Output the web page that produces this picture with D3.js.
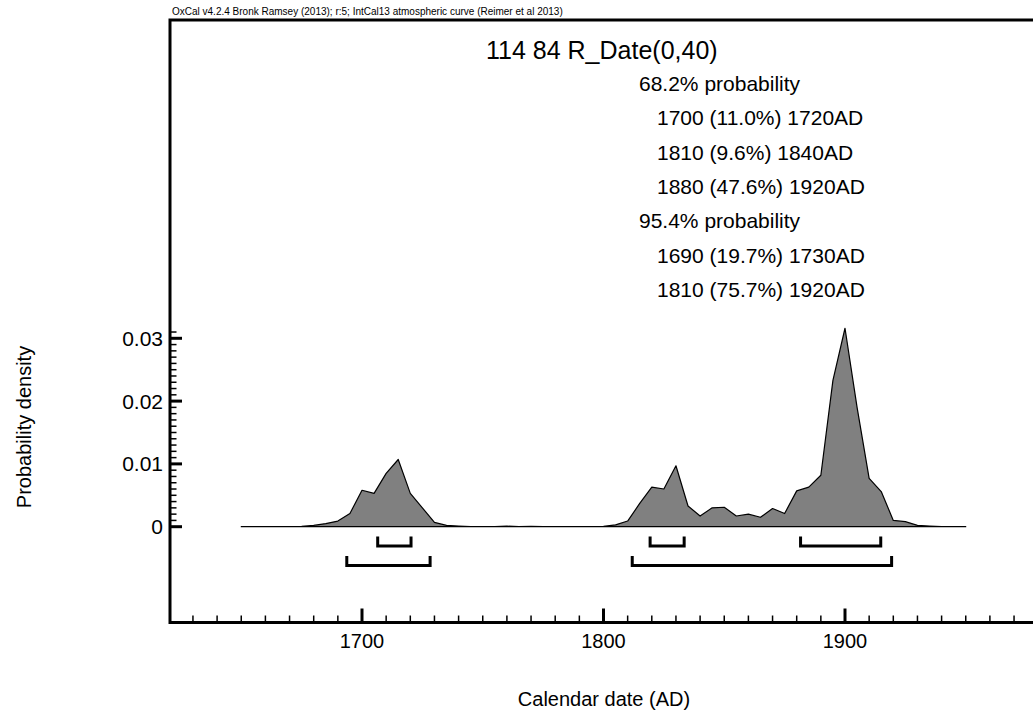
<!DOCTYPE html>
<html>
<head>
<meta charset="utf-8">
<script src="https://cdn.jsdelivr.net/npm/d3@7"></script>
<style>
  body { margin: 0; background: #fff; }
  svg { display: block; font-family: "Liberation Sans", Arial, sans-serif; }
</style>
</head>
<body>
<svg id="svg" width="1033" height="715"></svg>
<script>
// calibrated probability density, every 5 years
const years = d3.range(1650, 1951, 5);
const density = [
    0, 0, 0, 0, 0, 0.00005, 0.0002, 0.0005, 0.0009, 0.0021,
    0.0058, 0.0053, 0.0085, 0.0107, 0.0053, 0.0030, 0.0007, 0.0002, 0.0001, 0,
    0, 0, 0.0001, 0, 0.00005, 0, 0, 0, 0, 0,
    0.00005, 0.0003, 0.0009, 0.0037, 0.0063, 0.0060, 0.0097, 0.0033, 0.0017, 0.0030,
    0.0031, 0.0017, 0.0020, 0.0015, 0.0029, 0.0021, 0.0057, 0.0063, 0.0082, 0.0233,
    0.0316, 0.0190, 0.0077, 0.0056, 0.0010, 0.0008, 0.0002, 0.0001, 0, 0,
    0
];
const range68 = [[1706.5, 1720.3], [1819.3, 1833.4], [1881.6, 1914.8]];
const range95 = [[1693.7, 1728.2], [1811.9, 1919.3]];

const headerText = "OxCal v4.2.4 Bronk Ramsey (2013); r:5; IntCal13 atmospheric curve (Reimer et al 2013)";
const titleText = "114 84 R_Date(0,40)";
const summary = [
    { text: "68.2% probability", indent: false },
    { text: "1700 (11.0%) 1720AD", indent: true },
    { text: "1810 (9.6%) 1840AD", indent: true },
    { text: "1880 (47.6%) 1920AD", indent: true },
    { text: "95.4% probability", indent: false },
    { text: "1690 (19.7%) 1730AD", indent: true },
    { text: "1810 (75.7%) 1920AD", indent: true }
];
const xMajor = [1700, 1800, 1900];
const xMinor = d3.range(1630, 1971, 10);
const yMajor = [0, 0.01, 0.02, 0.03];
const yMinor = d3.range(0, 0.0315, 0.001);

const svg = d3.select("#svg");
svg.append("rect").attr("width", 1033).attr("height", 715).attr("fill", "#fff");

const x = d3.scaleLinear().domain([1700, 1900]).range([362, 845]);
const y = d3.scaleLinear().domain([0, 0.03]).range([526.7, 338.3]);

const frameLeft = 170, frameTop = 20, frameBottom = 622.5, frameRight = 1033;

// header
svg.append("text")
    .attr("x", 172).attr("y", 15)
    .attr("font-size", 10)
    .text(headerText);

// frame (top, left, bottom)
svg.append("path")
    .attr("d", `M${frameRight},${frameTop}H${frameLeft}V${frameBottom}H${frameRight}`)
    .attr("fill", "none")
    .attr("stroke", "black")
    .attr("stroke-width", 3);

// x ticks
svg.append("g").selectAll("line").data(xMinor.filter(d => !xMajor.includes(d))).join("line")
    .attr("x1", d => x(d)).attr("x2", d => x(d))
    .attr("y1", frameBottom).attr("y2", frameBottom - 7)
    .attr("stroke", "black").attr("stroke-width", 1.5);
svg.append("g").selectAll("line").data(xMajor).join("line")
    .attr("x1", d => x(d)).attr("x2", d => x(d))
    .attr("y1", frameBottom).attr("y2", frameBottom - 14)
    .attr("stroke", "black").attr("stroke-width", 3);
svg.append("g").selectAll("text").data(xMajor).join("text")
    .attr("x", d => x(d)).attr("y", 648)
    .attr("text-anchor", "middle")
    .attr("font-size", 20)
    .text(d => d);

// y ticks
svg.append("g").selectAll("line").data(yMinor).join("line")
    .attr("x1", frameLeft).attr("x2", frameLeft + 6.5)
    .attr("y1", d => y(d)).attr("y2", d => y(d))
    .attr("stroke", "black").attr("stroke-width", 1.5);
svg.append("g").selectAll("line").data(yMajor).join("line")
    .attr("x1", frameLeft).attr("x2", frameLeft + 12)
    .attr("y1", d => y(d)).attr("y2", d => y(d))
    .attr("stroke", "black").attr("stroke-width", 3);
svg.append("g").selectAll("text").data(yMajor).join("text")
    .attr("x", 163).attr("y", d => y(d) + 7.5)
    .attr("text-anchor", "end")
    .attr("font-size", 21)
    .text(d => d === 0 ? "0" : d3.format(".2f")(d));

// density
const area = d3.area()
    .x((d, i) => x(years[i]))
    .y0(y(0))
    .y1(d => y(d));
svg.append("path")
    .datum(density)
    .attr("d", area)
    .attr("fill", "#808080")
    .attr("stroke", "black")
    .attr("stroke-width", 1.2)
    .attr("stroke-linejoin", "round");

// range brackets
function brackets(data, yTop, yBot) {
    svg.append("g").selectAll("path").data(data).join("path")
        .attr("d", d => `M${x(d[0])},${yTop}V${yBot}H${x(d[1])}V${yTop}`)
        .attr("fill", "none")
        .attr("stroke", "black")
        .attr("stroke-width", 3);
}
brackets(range68, 536.5, 546);
brackets(range95, 556, 565.5);

// title and summary
svg.append("text")
    .attr("x", 486).attr("y", 58.5)
    .attr("font-size", 25)
    .text(titleText);
svg.append("g").selectAll("text").data(summary).join("text")
    .attr("x", d => d.indent ? 657 : 639)
    .attr("y", (d, i) => 91 + i * 34.3)
    .attr("font-size", 21)
    .text(d => d.text);

// axis labels
svg.append("text")
    .attr("x", 604).attr("y", 706)
    .attr("text-anchor", "middle")
    .attr("font-size", 20)
    .text("Calendar date (AD)");
svg.append("text")
    .attr("transform", "translate(31,427) rotate(-90)")
    .attr("text-anchor", "middle")
    .attr("font-size", 20)
    .text("Probability density");
</script>
</body>
</html>
